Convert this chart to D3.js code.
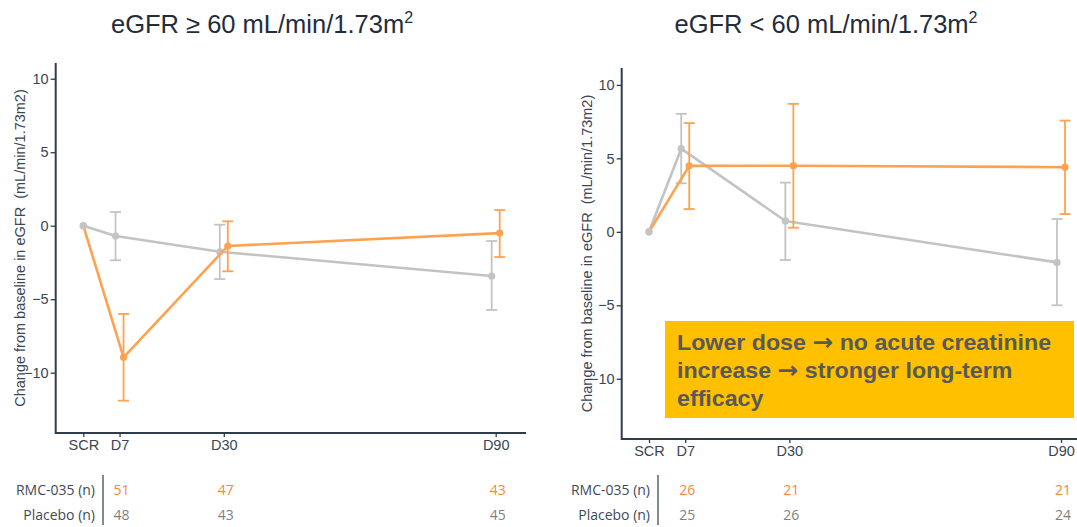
<!DOCTYPE html>
<html><head><meta charset="utf-8">
<script src="https://cdn.jsdelivr.net/npm/d3@7"></script>
<style>body{margin:0;background:#fff}svg{display:block}</style>
</head><body>
<svg id="c" width="1077" height="527"></svg>
<script>
// ---- data ----
const days = [-1, 7, 30, 90];
const dayLabels = ["SCR", "D7", "D30", "D90"];
const yTicks = [-10, -5, 0, 5, 10];
const panelTitles = ["eGFR \u2265 60 mL/min/1.73m", "eGFR < 60 mL/min/1.73m"];
const rowLabels = ["RMC-035 (n)", "Placebo (n)"];

// eGFR >= 60
const hiPlaceboMean  = [0, -0.7, -1.77, -3.42];
const hiPlaceboLow   = [null, -2.35, -3.63, -5.73];
const hiPlaceboHigh  = [null, 0.93, 0.07, -1.04];
const hiRmcMean      = [0, -8.95, -1.38, -0.5];
const hiRmcLow       = [null, -11.9, -3.1, -2.13];
const hiRmcHigh      = [null, -6.0, 0.3, 1.07];
const hiRmcN         = [51, 47, 43];
const hiPlaceboN     = [48, 43, 45];

// eGFR < 60
const loPlaceboMean  = [0, 5.66, 0.74, -2.08];
const loPlaceboLow   = [null, 3.3, -1.92, -5.0];
const loPlaceboHigh  = [null, 8.03, 3.35, 0.87];
const loRmcMean      = [0, 4.49, 4.5, 4.4];
const loRmcLow       = [null, 1.55, 0.28, 1.21];
const loRmcHigh      = [null, 7.4, 8.71, 7.57];
const loRmcN         = [26, 21, 21];
const loPlaceboN     = [25, 26, 24];

const calloutLines = [["Lower dose ", " no acute creatinine"], ["increase ", " stronger long-term"], ["efficacy"]];

// ---- drawing ----
const svg = d3.select("#c");
const ORANGE = "#FFA24F", GRAY = "#C3C3C3", AXIS = "#2E3D4C", TXT = "#3A4654";
const FONT = "'Liberation Sans', Arial, sans-serif";

function panel(o) {
  const x = d3.scaleLinear().domain([-1, 90]).range([o.x0, o.x1]);
  const y = d3.scaleLinear().domain([-14.1, o.ymax]).range([o.yb, o.yt]);
  const g = svg.append("g");

  // title
  const t = g.append("text").attr("x", o.tx).attr("y", 33).attr("text-anchor", "middle")
    .attr("font-family", FONT).attr("font-size", 25.5).attr("fill", "#1F2D3D");
  t.append("tspan").text(o.title);
  t.append("tspan").attr("font-size", 16).attr("dy", -10).text("2");

  // axes
  const ya = g.append("g").attr("transform", `translate(${o.ax},0)`)
    .call(d3.axisLeft(y).tickValues(yTicks).tickSize(5).tickPadding(2).tickSizeOuter(0));
  ya.select(".domain").remove();
  g.append("line").attr("x1", o.ax).attr("x2", o.ax).attr("y1", o.yt).attr("y2", o.yb + 1)
    .attr("stroke", AXIS).attr("stroke-width", 2);
  const xa = g.append("g").attr("transform", `translate(0,${o.yb})`)
    .call(d3.axisBottom(x).tickValues(days).tickFormat((d, i) => dayLabels[i]).tickSize(4).tickPadding(3).tickSizeOuter(0));
  xa.select(".domain").remove();
  g.append("line").attr("x1", o.ax).attr("x2", o.axEnd).attr("y1", o.yb).attr("y2", o.yb)
    .attr("stroke", AXIS).attr("stroke-width", 2);
  [ya, xa].forEach(a => {
    a.selectAll("text").attr("font-family", FONT).attr("font-size", 14.5).attr("fill", TXT);
    a.selectAll(".tick line").attr("stroke", AXIS).attr("stroke-width", 1.3);
  });

  // y label
  g.append("text").attr("transform", `translate(${o.lx},${(o.yt + o.yb) / 2}) rotate(-90)`)
    .attr("text-anchor", "middle").attr("font-family", FONT).attr("font-size", 14.5).attr("fill", TXT)
    .attr("xml:space", "preserve")
    .text("Change from baseline in eGFR  (mL/min/1.73m2)");

  // series
  const series = [
    {mean: o.pm, lo: o.pl, hi: o.ph, color: GRAY, dx: -4},
    {mean: o.rm, lo: o.rl, hi: o.rh, color: ORANGE, dx: 4}
  ];
  const px = (s, i) => x(days[i]) + (i === 0 ? 0 : s.dx);
  series.forEach(s => {
    const pts = s.mean.map((m, i) => [px(s, i), y(m)]);
    g.append("path").attr("d", d3.line()(pts)).attr("fill", "none")
      .attr("stroke", s.color).attr("stroke-width", 2.6).attr("stroke-linejoin", "round");
    s.mean.forEach((m, i) => {
      if (s.lo[i] == null) return;
      const cx = px(s, i);
      g.append("line").attr("x1", cx).attr("x2", cx).attr("y1", y(s.lo[i])).attr("y2", y(s.hi[i]))
        .attr("stroke", s.color).attr("stroke-width", 1.8);
      [s.lo[i], s.hi[i]].forEach(v => g.append("line").attr("x1", cx - 5.5).attr("x2", cx + 5.5)
        .attr("y1", y(v)).attr("y2", y(v)).attr("stroke", s.color).attr("stroke-width", 1.8));
    });
    s.mean.forEach((m, i) => {
      if (i === 0) return;
      g.append("circle").attr("cx", px(s, i)).attr("cy", y(m)).attr("r", 3.6).attr("fill", s.color);
    });
  });
  g.append("circle").attr("cx", x(days[0])).attr("cy", y(0)).attr("r", 3.8).attr("fill", GRAY);

  // n table
  const TF = "'Open Sans', 'Noto Sans', sans-serif";
  rowLabels.forEach((lab, r) => {
    g.append("text").attr("x", o.labR).attr("y", 495 + r * 25).attr("text-anchor", "end")
      .attr("font-family", TF).attr("font-size", 14).attr("fill", "#404B57").text(lab);
  });
  g.append("line").attr("x1", o.barX).attr("x2", o.barX).attr("y1", 475).attr("y2", 525)
    .attr("stroke", "#404B57").attr("stroke-width", 1.3);
  [[o.rn, "#F5893A"], [o.pn, "#7F7F7F"]].forEach(([arr, col], r) => {
    arr.forEach((n, i) => g.append("text").attr("x", x(days[i + 1]) + 2).attr("y", 495 + r * 25)
      .attr("text-anchor", "middle").attr("font-family", TF).attr("font-size", 14).attr("fill", col).text(n));
  });
}

panel({title: panelTitles[0], tx: 262, x0: 83.3, x1: 495.7, ax: 55.7, axEnd: 526, yt: 63, yb: 433, ymax: 11.07,
  lx: 25, labR: 95, barX: 103,
  pm: hiPlaceboMean, pl: hiPlaceboLow, ph: hiPlaceboHigh, rm: hiRmcMean, rl: hiRmcLow, rh: hiRmcHigh,
  rn: hiRmcN, pn: hiPlaceboN});
panel({title: panelTitles[1], tx: 826, x0: 649, x1: 1061, ax: 621.7, axEnd: 1077, yt: 68, yb: 439, ymax: 11.15,
  lx: 592, labR: 650, barX: 658,
  pm: loPlaceboMean, pl: loPlaceboLow, ph: loPlaceboHigh, rm: loRmcMean, rl: loRmcLow, rh: loRmcHigh,
  rn: loRmcN, pn: loPlaceboN});

// callout
svg.append("rect").attr("x", 665).attr("y", 321).attr("width", 409).attr("height", 97).attr("fill", "#FFC000");
const cg = svg.append("g").attr("transform", "translate(677,0) scale(1.08,1)");
calloutLines.forEach((parts, i) => {
  const t = cg.append("text").attr("x", 0).attr("y", 350 + i * 28)
    .attr("font-family", FONT).attr("font-weight", "bold").attr("font-size", 21.5).attr("fill", "#595959")
    .attr("xml:space", "preserve");
  parts.forEach((p, j) => {
    if (j > 0) t.append("tspan").attr("font-family", "'DejaVu Sans', sans-serif").attr("font-size", 23).text("\u2192");
    t.append("tspan").text(p);
  });
});
</script>
</body></html>
